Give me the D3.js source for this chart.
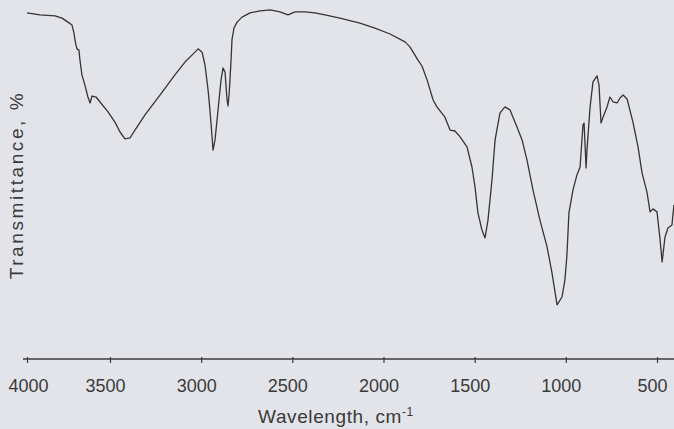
<!DOCTYPE html>
<html lang="en">
<head>
<meta charset="utf-8">
<title>IR spectrum</title>
<script src="https://cdn.jsdelivr.net/npm/d3@7"></script>
<style>
  html, body { margin: 0; padding: 0; background: #e3e4e9; }
  svg { display: block; }
</style>
</head>
<body>
<svg width="674" height="429"></svg>
<script>
// wavenumber (cm-1), left to right
var wavenumber = [
  4000, 3922, 3831, 3789, 3753, 3729, 3717, 3711, 3705, 3699, 3687, 3681, 3669, 3651, 3633, 3620,
  3608, 3584, 3560, 3512, 3473, 3445, 3418, 3390, 3363, 3308, 3226, 3144, 3089, 3034, 3017, 2995,
  2979, 2962, 2952, 2941, 2935, 2924, 2913, 2902, 2891, 2880, 2869, 2864, 2858, 2853, 2847, 2842,
  2836, 2831, 2820, 2803, 2776, 2732, 2677, 2622, 2568, 2524, 2485, 2430, 2376, 2321, 2239, 2129,
  2047, 1964, 1882, 1855, 1811, 1789, 1761, 1728, 1707, 1663, 1635, 1608, 1580, 1542, 1515, 1498,
  1482, 1460, 1443, 1427, 1405, 1388, 1361, 1334, 1306, 1268, 1240, 1213, 1180, 1142, 1103, 1076,
  1048, 1021, 1005, 994, 983, 961, 939, 922, 906, 900, 889, 884, 867, 851, 829, 818,
  807, 796, 774, 758, 741, 719, 703, 686, 664, 632, 604, 582, 555, 538, 522, 500,
  483, 472, 456, 440, 418, 407
];
// transmittance (%) at each wavenumber, estimated
var transmittance = [
  96.1, 95.5, 95.2, 94.5, 93.3, 92.4, 90.0, 87.9, 86.4, 85.2, 84.8, 81.8, 77.3, 74.2, 70.6, 68.8,
  70.9, 70.6, 69.1, 66.1, 63.0, 60.0, 57.9, 58.2, 60.6, 65.2, 71.2, 77.3, 81.2, 84.2, 85.2, 84.2,
  80.3, 72.7, 66.7, 59.1, 54.5, 57.6, 63.6, 69.7, 75.8, 79.4, 78.2, 74.2, 69.7, 67.9, 71.2, 75.8,
  81.8, 87.9, 91.5, 93.3, 94.8, 96.1, 96.7, 97.0, 96.4, 95.5, 96.4, 96.4, 96.1, 95.5, 94.5, 93.0,
  91.5, 89.7, 87.3, 85.8, 81.8, 80.0, 75.8, 69.7, 67.6, 64.5, 60.6, 60.3, 58.5, 55.5, 49.4, 43.3,
  35.5, 30.3, 27.9, 33.3, 45.5, 57.6, 65.8, 67.6, 66.7, 61.5, 57.6, 51.5, 42.4, 33.3, 25.2, 17.3,
  7.6, 10.0, 15.2, 22.7, 35.5, 42.4, 47.0, 49.4, 62.1, 62.7, 49.1, 54.5, 67.6, 75.2, 77.0, 74.2,
  62.7, 64.5, 67.6, 70.6, 69.1, 68.8, 70.3, 71.2, 70.0, 63.0, 55.5, 47.6, 41.8, 35.8, 36.7, 35.8,
  27.3, 20.6, 28.2, 30.9, 31.8, 37.9
];
var tickValues = [4000, 3500, 3000, 2500, 2000, 1500, 1000, 500];

var svg = d3.select("svg"),
    axisY = 359;

// x axis of the scan is a little stretched at the 4000 end
var xScale = d3.scaleLinear().domain([4000, 3500, 500]).range([27, 110, 657]);
var yScale = d3.scaleLinear().domain([0, 100]).range([330, 0]);

var data = wavenumber.map(function(w, i) { return { w: w, t: transmittance[i] }; });

var line = d3.line()
    .x(function(d) { return xScale(d.w); })
    .y(function(d) { return yScale(d.t); });

svg.append("path")
   .datum(data)
   .attr("d", line)
   .attr("fill", "none")
   .attr("stroke", "#353535")
   .attr("stroke-width", 1.3)
   .attr("stroke-linejoin", "round");

// axis
var g = svg.append("g").attr("transform", "translate(0," + axisY + ")");
g.call(d3.axisBottom(xScale)
         .tickValues(tickValues)
         .tickFormat(d3.format("d"))
         .tickSizeInner(4).tickSizeOuter(0).tickPadding(16));
g.select(".domain").remove();
g.append("line")
 .attr("x1", 23).attr("x2", 674)
 .attr("stroke", "#3d3d3d").attr("stroke-width", 1.4);
g.selectAll(".tick line").attr("stroke", "#3d3d3d").attr("stroke-width", 1.2).attr("y1", -2);
g.selectAll(".tick text")
 .attr("dx", function(d) { return d === 4000 ? 1 : -5; })
 .style("font-family", "'Liberation Sans', Arial, sans-serif")
 .style("font-size", "18px")
 .attr("fill", "#3a3a3a");

var xl = svg.append("text")
   .attr("x", 336)
   .attr("y", 423)
   .attr("text-anchor", "middle")
   .style("font-family", "'Liberation Sans', Arial, sans-serif")
   .style("font-size", "19px")
   .style("letter-spacing", "0.6px")
   .attr("fill", "#3a3a3a");
xl.append("tspan").text("Wavelength, cm");
xl.append("tspan").attr("dy", -7).style("font-size", "12px").text("-1");

svg.append("text")
   .attr("transform", "translate(23,185) rotate(-90)")
   .attr("text-anchor", "middle")
   .style("font-family", "'Liberation Sans', Arial, sans-serif")
   .style("font-size", "19px")
   .style("letter-spacing", "2.6px")
   .attr("fill", "#3a3a3a")
   .text("Transmittance, %");
</script>
</body>
</html>
